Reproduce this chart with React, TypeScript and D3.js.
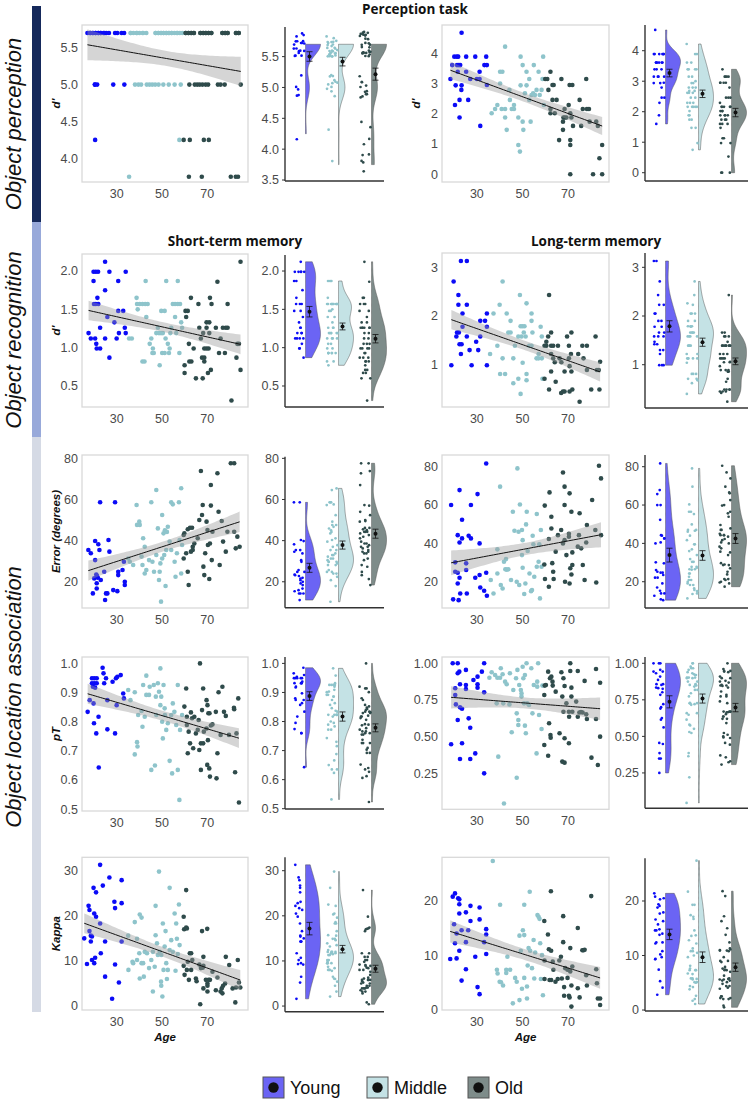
import React from 'react';
import * as d3 from 'd3';

type Pt = [number, number];

const GROUPS = ['Young', 'Middle', 'Old'];
const GROUP_CUTS = [35, 59.5];
const AGE_TICKS = [30, 50, 70];
const AGE_DOMAIN: [number, number] = [14.7, 88];
const POINT_COLORS = ['#0b0bf7', '#8ec4cb', '#2f4b4b'];
const VIOLIN_COLORS = ['#6b64f4', '#c4e2e5', '#7e8c8a'];
const ROW_LABELS = ['Object perception', 'Object recognition', 'Object location association'];
const TITLES = ['Perception task', 'Short-term memory', 'Long-term memory'];

// ---------- data: [age, value] ----------
const perceptionA: Pt[] = [
  [17.1,5.7],[18.3,5.7],[19.5,5.7],[20.7,5.7],[21.9,5.7],[23,5.7],[24.4,5.7],[25.4,5.7],[26.6,5.7],[29.3,5.7],[30.3,5.7],[32.2,5.7],[33.3,5.7],[18.3,5.7],[19.5,5.7],[20.7,5.7],[21.9,5.7],[23,5.7],[24.4,5.7],
  [20.4,5],[21.4,5],[28.5,5],[33.4,5],[20.4,5],[20.5,4.25],
  [36.2,5.7],[37.4,5.7],[38.9,5.7],[40.1,5.7],[41.6,5.7],[43.1,5.7],[47.2,5.7],[48.4,5.7],[49.6,5.7],[50.7,5.7],[51.9,5.7],[53.1,5.7],[54.3,5.7],[55.5,5.7],[56.7,5.7],[57.9,5.7],[59,5.7],[36.2,5.7],[38.9,5.7],[41.6,5.7],[47.2,5.7],[48.4,5.7],[49.6,5.7],[50.7,5.7],[51.9,5.7],[53.1,5.7],[54.3,5.7],[56.7,5.7],
  [38.1,5],[39.6,5],[40.8,5],[43.3,5],[44.5,5],[45.7,5],[47,5],[48.5,5],[50.6,5],[53,5],[55.6,5],[58.3,5],[57.7,4.25],[35.5,3.75],
  [60.5,5.7],[61.7,5.7],[62.9,5.7],[64.1,5.7],[67,5.7],[68.2,5.7],[69.4,5.7],[70.6,5.7],[71.8,5.7],[76.7,5.7],[77.9,5.7],[79,5.7],[82.7,5.7],[83.9,5.7],
  [60.5,5.7],[61.7,5.7],[62.9,5.7],[64.1,5.7],[67,5.7],[68.2,5.7],[69.4,5.7],[70.6,5.7],[71.8,5.7],[76.7,5.7],[77.9,5.7],[79,5.7],[82.7,5.7],[83.9,5.7],
  [62.1,5],[64.5,5],[65.6,5],[66.7,5],[67.9,5],[69.3,5],[70.4,5],[74.7,5],[75.9,5],[77.7,5],[84.8,5],
  [59.6,4.25],[62.3,4.25],[68.5,4.25],[70.7,4.25],[61.9,3.75],[67.6,3.75],[80.4,3.75],[82.6,3.75],[83.6,3.75]
];

const perceptionB: Pt[] = [
  [18.4,3.15],[19.2,3.61],[20.1,3.89],[21.2,3.89],[21.8,3.89],[20.7,2.94],[20.4,2.29],[21.3,3.61],[22.1,3.61],[22.7,3.61],[21.6,3.39],[22.4,2.46],[22.4,1.88],[23.2,2.79],[23.3,4.68],[23.3,2.94],[25.3,3.89],[25.3,3.39],[26.2,2.46],[27.1,3.15],[29.3,3.89],[30,3.15],[31.2,3.15],[31.2,3.39],[31.5,1.6],[33.3,3.61],[34.4,3.61],[34.1,3.89],[34.4,2.95],
  [36.5,2.02],[38,2.16],[39,2.29],[40.2,3.39],[41.2,3.39],[40.2,3.0],[40.9,2.16],[42.4,4.22],[42.4,2.16],[42.4,1.88],[43.1,1.47],[44.3,2.79],[44.5,2.46],[45.3,2.16],[46.3,2.16],[46.3,2.29],[48.2,0.97],[48.9,0.75],[48.2,1.88],[49.2,3.89],[49.2,2.94],[50.1,3.61],[50.1,1.74],[50.4,1.47],[51.1,2.68],[51.8,3.39],[51.8,2.94],[53,3.15],[53,2.46],[53.6,1.74],[54,2.62],[54.7,2.68],[55,3.61],[55.5,2.62],[56.2,2.79],[57.1,3.39],[57.6,2.62],[58.4,2.79],[59.1,3.89],[58.8,3.15],[59.4,2.29],
  [60,3.15],[60.9,3.15],[61.4,2.79],[62.3,3.39],[62.3,2.16],[62.3,2.02],[63.2,2.95],[63.7,2.95],[63.2,2.46],[64.2,2.02],[65,2.46],[66.1,1.13],[67.1,3.15],[68,1.88],[68.6,1.88],[69.3,1.88],[68.5,2.16],[67.8,1.74],[67.8,1.47],[70.3,2.29],[70.7,2.95],[71.9,2.95],[71,1.13],[71,0.97],[71,2.02],[71.5,1.88],[72.2,1.6],[71,0.0],[75.1,2.46],[75.8,1.6],[76.5,2.16],[78,3.15],[78.3,2.16],[79.2,2.16],[79.5,1.74],[81,0.0],[82.4,1.74],[83.1,1.6],[83.8,0.53],[85,0.97],[85,0.0]
];

const stmRecognition: Pt[] = [
  [17.6,1.19],[18.6,1.12],[19.8,1.99],[20.8,1.99],[21.8,1.99],[19.8,1.87],[20,1.57],[20.8,1.57],[20.5,1.12],[21,1.05],[21.2,0.99],[21.5,1.65],[21.9,1.57],[22.7,0.99],[22.7,1.26],[24.9,2.12],[24.9,1.75],[24.9,1.12],[25.9,1.4],[26.8,1.99],[26.8,0.87],[29,1.33],[30,1.12],[30.7,1.87],[30.7,1.48],[31,1.19],[32.9,1.48],[33.6,1.26],[34,1.19],[34,1.99],
  [35.5,1.12],[36.7,1.12],[38.8,1.65],[39,1.57],[40.2,1.57],[41.4,1.57],[42.6,1.57],[43.7,1.57],[39.3,1.5],[42.8,1.87],[41.4,0.82],[42.3,0.82],[43.1,1.4],[44.6,1.05],[45.3,1.12],[45.8,0.93],[46.4,0.93],[46,0.99],[47.5,1.19],[48.7,1.19],[49.6,1.19],[50.4,1.19],[49,0.77],[48.2,1.26],[49.7,1.48],[51.2,1.48],[50.1,0.93],[51.2,0.93],[51.9,1.87],[51.6,1.12],[52.6,1.05],[53.1,0.93],[53.4,0.99],[53.7,1.19],[54.1,1.26],[54.8,1.57],[55.8,1.57],[57,1.57],[58,1.57],[55.8,1.4],[57,1.87],[56.3,1.19],[57.7,0.93],[58.5,1.33],[58.9,1.26],
  [60,0.77],[60,0.67],[60.4,1.48],[61.4,1.48],[60.7,1.4],[61.9,1.05],[62.1,0.82],[63,0.82],[62.8,1.65],[64,0.99],[65,0.6],[66.1,1.57],[66.5,1.26],[67.2,1.12],[67.7,0.87],[68.7,0.87],[68,0.6],[68.2,1.19],[68.7,0.99],[69.7,0.99],[68.7,0.82],[69.7,1.33],[70.9,1.33],[69.7,1.26],[70.3,0.67],[70.6,0.99],[70.9,1.19],[71.2,1.65],[71.6,0.71],[71.9,1.57],[73.8,1.26],[74.5,1.86],[75.2,0.93],[75.9,1.12],[76.9,1.26],[77.8,0.93],[78.2,1.26],[79,1.26],[79,1.57],[80.7,0.31],[82.9,0.87],[83.3,1.05],[84,1.05],[84.7,2.12],[84.7,0.71]
];

const ltmRecognition: Pt[] = [
  [18.8,0.99],[19.8,2.71],[21,1.58],[21.3,1.66],[22.1,1.66],[21.9,2.43],[21.9,2.23],[22.4,1.42],[23.3,1.42],[23,3.13],[23,1.22],[23.7,2.05],[23.7,1.78],[25.6,3.13],[25.6,2.23],[25.6,1.58],[26.8,1.3],[27.7,0.99],[29.7,1.47],[30.6,1.3],[31.5,1.9],[31.5,1.58],[33.6,1.9],[34.4,2.05],[34.4,1.78],[34.4,0.99],
  [35.8,1.22],[37.3,2.05],[39,1.39],[40,2.23],[40.2,0.81],[41.3,2.71],[41.3,1.13],[42.4,0.81],[43.1,2.05],[43.8,1.66],[44.8,1.66],[44.8,1.9],[46,1.13],[46,0.62],[46.7,1.39],[48.2,1.58],[48.2,0.71],[48.9,2.43],[49.2,1.79],[50,1.79],[50.9,1.79],[49.6,1.58],[49.2,0.4],[50.1,1.04],[50.6,1.66],[51.4,1.58],[51.8,2.26],[51.8,0.81],[51.8,0.68],[53,1.39],[54,1.39],[54,2.05],[54,1.9],[54.4,1.66],[56.2,1.13],[57.1,1.13],[57.1,1.22],[58,1.78],[58.5,1.58],[58.8,0.71],[58.5,1.13],
  [59.7,1.39],[60.5,1.39],[59.7,0.71],[60.5,1.47],[61.3,1.58],[61.7,2.43],[61.7,0.49],[62.6,1.66],[62.6,1.39],[63.5,1.39],[62.6,1.22],[62.6,0.86],[63.5,1.13],[64.2,1.05],[64.6,0.65],[65.6,1.39],[66.3,1.13],[67.1,1.05],[67,0.42],[67.8,0.45],[68.5,0.45],[68.5,0.86],[69.6,1.58],[70.4,1.39],[70.4,1.13],[70.7,0.97],[70.7,0.45],[71.5,1.66],[71.3,1.22],[71.5,0.86],[71.9,0.49],[74.5,1.22],[75.1,0.24],[76.3,1.39],[76.8,1.13],[78.3,1.39],[78.3,0.89],[80.2,0.49],[82.1,1.58],[82.7,0.89],[83.5,0.89],[83.8,0.49],[84.1,1.06]
];

const errorStm: Pt[] = [
  [17.5,35.4],[18.6,33.8],[19.5,14.3],[20.1,21.6],[20.5,39.8],[20.5,30.5],[21,23.5],[21.3,22.8],[21.7,21.9],[21.2,19.2],[21.2,16.7],[21.9,38.2],[22.4,35.4],[22.7,58.6],[23,20.8],[24.5,24.8],[24.9,11.1],[25.3,14.3],[25.9,14.3],[26.4,40.3],[26.8,34.6],[28.5,15.9],[29.3,58.6],[30.3,15.4],[30.7,23.2],[30.7,24.8],[32.6,25.7],[33.2,29.7],[33.6,20],[33.6,18.4],
  [35.1,31.3],[35.8,29.7],[37.3,28.1],[38.8,57.3],[39,47.6],[40.2,47.6],[40,49.2],[41,32.2],[41.4,28.1],[41.7,41.1],[42.4,24],[42.4,37],[43.1,25.7],[44.3,30.5],[45.3,58.6],[45.8,29.7],[46.5,24.8],[47.5,64.6],[47.5,33],[48.2,45.9],[48.7,20.8],[49,24.8],[49.3,28.9],[49.6,10.3],[50.1,52.4],[50.1,31.3],[50.7,43.5],[51,33],[51.3,45],[52.2,44.2],[51.6,17.9],[51.9,35.4],[52.6,46.7],[53.4,39.5],[54.1,58.6],[54.8,57.6],[54.1,35.4],[55.6,29.7],[56,22.4],[56.6,33.8],[57.5,58.6],[57.8,40.3],[58.5,65.4],[58.5,24],[58.9,37.8],
  [59.6,42.7],[59.6,31.3],[59.9,43.5],[60.7,33.8],[61.4,45.5],[62.4,46.2],[63.3,46.2],[61.4,24.8],[61.8,18.4],[62.8,34.6],[63.6,35.4],[63.6,37],[64.3,38.6],[65.8,41.1],[66.5,50],[67.2,73.8],[67.7,52.4],[68,57.3],[68.3,27.3],[68.7,23.2],[69.1,33.8],[69.7,49.2],[70.1,45.1],[70.3,37.8],[70.9,21.3],[71.2,38.6],[71.6,67],[71.6,57],[72,30.5],[72.3,44.3],[74.5,72.7],[75,54],[75.5,28.1],[76.4,49.5],[77,39.5],[78.2,34.6],[78.9,44.3],[80.4,77.6],[81.9,77.6],[81.9,44.3],[82.6,36.2],[83.3,41.9],[84.3,37]
];

const errorLtm: Pt[] = [
  [18.7,60],[19.6,10.8],[20.5,30.1],[20.5,25.2],[21.6,44.3],[21.6,24.7],[22.4,67.8],[22.4,40.5],[22.4,22.1],[21.6,19.1],[22,10.4],[23.5,52.3],[23.5,42.6],[22.7,13.9],[25.3,29.6],[25.3,26.1],[25.6,13.9],[26.4,44],[27.4,42.6],[27.4,60],[29.3,22.1],[30.3,65.7],[31.2,40],[31.2,23.5],[31.5,17],[33.2,15.3],[34.1,81.7],[34.1,24.7],[34.4,12.7],
  [36.1,20.9],[37.3,13.9],[39,36.9],[39,24.3],[40.2,69.6],[40.5,18.3],[41.3,16.5],[41.9,30.4],[42.8,31.8],[42.5,26.5],[43.1,26.3],[43.8,26.5],[45,20.9],[45.8,56.5],[46.5,46.6],[47.5,20],[47.8,79.1],[48.3,46.1],[48.6,18.3],[48.9,60.3],[49.8,47],[49.8,33.9],[50.1,41.7],[50.1,27.3],[50.8,13.6],[51.3,19.1],[51.6,49.9],[51.9,56.5],[52.3,36],[53.1,24.3],[53.8,15.1],[54.2,15.7],[54.5,44],[54.8,39.5],[55.2,22.6],[56.3,55.3],[56.3,27.8],[57.1,30.4],[57.4,39.5],[57.7,11.3],[58.1,47],[58.4,27.8],
  [59.8,59.7],[59.6,29],[59.9,21.4],[61.6,42.3],[61.6,17.4],[61.9,66.6],[62.7,53.9],[62.7,47.8],[63.1,29.7],[63.5,25.2],[63.7,21.4],[64.6,35.7],[65.6,44.3],[67,47],[67.8,77],[67.8,40],[68.5,69.6],[68.5,60],[68.5,41.7],[68.7,20],[69.3,33.9],[70.4,45],[70.4,43.5],[70.7,66.1],[70.7,19.1],[71,27],[71.5,56.5],[71.5,23.8],[71.9,28.7],[71.9,35.3],[74.3,38.3],[74.8,44.3],[75.1,55.7],[75.8,37.4],[76.5,28.7],[77.3,20.9],[78,40.5],[78.3,49.6],[80.6,62.6],[82,47],[82.4,19.6],[83.6,80.5],[84.5,73.9],[84.5,44.3]
];

const ptStm: Pt[] = [
  [17.2,0.834],[18.1,0.874],[19.1,0.949],[20.1,0.949],[21.2,0.949],[19.1,0.932],[20.1,0.932],[21.2,0.932],[19.5,0.92],[20.5,0.917],[19.8,0.863],[20,0.795],[21,0.76],[22,0.817],[22.1,0.643],[23.8,0.985],[24.2,0.966],[24.5,0.932],[25.3,0.949],[25.9,0.774],[25.9,0.874],[28.2,0.937],[29.3,0.76],[29.7,0.949],[30.3,0.954],[30,0.857],[31.8,0.96],[32.9,0.897],[33.2,0.88],
  [35.1,0.909],[36.1,0.874],[38,0.901],[38,0.688],[39,0.73],[39.2,0.715],[39.5,0.823],[41,0.837],[41.4,0.783],[41.7,0.926],[42.4,0.817],[43.1,0.958],[43.1,0.892],[44.3,0.892],[44.6,0.92],[45.3,0.635],[46.4,0.926],[46.9,0.65],[47.3,0.886],[47.5,0.823],[48.2,0.932],[48.7,0.903],[49.3,0.983],[49.3,0.857],[49.7,0.886],[50.1,0.8],[50.4,0.743],[50.7,0.926],[51.2,0.846],[51.3,0.823],[51.9,0.772],[52.6,0.795],[53.4,0.666],[54.1,0.823],[54.5,0.623],[54.8,0.863],[55.5,0.834],[56.3,0.789],[57,0.635],[57,0.926],[57.7,0.532],[58,0.772],[58.9,0.823],
  [59.9,0.852],[60.7,0.914],[61,0.817],[61,0.789],[61.4,0.692],[61.8,0.766],[62.4,0.726],[62.8,0.832],[63.3,0.812],[63.8,0.709],[64.3,0.817],[65,0.76],[65.8,0.772],[66.2,0.806],[66.5,0.703],[66.8,1.0],[67.2,0.726],[68.2,0.726],[67.2,0.635],[67.7,0.84],[68.2,0.914],[68.5,0.766],[69.7,0.874],[69.7,0.777],[70,0.652],[70.1,0.857],[70.3,0.737],[70.5,0.829],[71,0.829],[70.9,0.64],[71.2,0.612],[71.6,0.787],[72.3,0.791],[73.8,0.834],[74.1,0.606],[74.5,0.692],[75,0.901],[75.9,0.755],[76.7,0.92],[77.4,0.834],[78.2,0.82],[79.6,0.755],[81.8,0.848],[81.9,0.843],[82.3,0.627],[82.9,0.76],[83.7,0.88],[84,0.523]
];

const ptLtm: Pt[] = [
  [18.7,0.448],[19.4,1.0],[21.6,1.0],[20.5,0.83],[20.5,0.784],[20.8,0.72],[21.6,0.614],[21.6,0.932],[22.3,0.943],[22.6,0.7],[23.5,0.69],[22.6,0.857],[22.6,0.348],[23.5,0.455],[25.2,0.955],[25.2,0.852],[25.2,0.825],[26.4,0.625],[27.1,0.561],[27.1,0.348],[28.5,0.886],[29.3,0.386],[30.3,0.909],[30.3,0.857],[30.3,0.834],[32.2,0.943],[33.2,0.802],[33.2,1.0],[33.2,0.25],
  [35.5,0.902],[36.5,0.939],[38,0.92],[38.7,0.727],[39,0.902],[40.2,0.902],[39.4,0.364],[40.5,0.966],[41.3,0.925],[41.6,0.727],[41.9,0.045],[42.4,0.875],[43.1,0.857],[44.3,0.72],[44.5,0.932],[45.3,0.53],[46,0.818],[47.2,0.898],[47.5,0.659],[47.5,0.22],[47.8,0.955],[48.2,0.614],[48.2,0.58],[48.6,0.852],[49.3,0.818],[49.6,0.795],[49.6,0.773],[50.1,0.977],[50.4,0.898],[50.7,0.727],[51.1,0.92],[51.1,0.575],[51.5,0.523],[51.8,1.0],[52.1,0.727],[52.9,0.716],[53.9,0.966],[54.4,0.659],[55,0.852],[56.2,0.386],[56.5,0.875],[56.5,0.841],[56.9,1.0],[57.3,0.648],[58.4,0.552],[58.8,0.848],
  [59.6,0.784],[59.8,0.848],[60.3,0.852],[61.3,0.943],[61.7,0.591],[62.1,0.898],[61.3,0.37],[59.6,0.443],[62.3,0.511],[62.4,0.493],[62.7,0.909],[63.2,0.875],[63.3,0.848],[64.6,0.807],[66.3,0.523],[67.1,0.939],[67.5,0.773],[67.5,0.33],[68.5,0.323],[68,0.898],[68.5,0.845],[68.5,0.489],[68,0.67],[69.3,0.727],[70.4,0.455],[70.4,0.67],[70.5,0.636],[71,1.0],[71,0.948],[71.5,0.834],[71.5,0.773],[71.9,0.67],[73.6,0.739],[74.3,0.948],[74.3,0.636],[75,0.665],[75.7,0.668],[76.4,0.665],[77.3,0.88],[78,0.652],[78.3,0.62],[80.3,0.357],[82.3,0.961],[82.3,0.62],[83.1,0.307],[84.1,0.868],[84.1,0.5]
];

const kappaStm: Pt[] = [
  [15.7,15],[16.9,9.3],[17.6,22.2],[18,21.3],[18,16.6],[18.6,15.6],[19.1,15.4],[18.6,14.3],[19.1,10.2],[19.8,26.2],[20.1,20.5],[20.1,9.5],[20.5,10.7],[20.9,25.2],[20.9,19.8],[22.7,31.3],[22.7,18.3],[23,11.7],[23.9,26.7],[24.9,14.3],[24.9,6.5],[26.8,28.5],[28,1.6],[29,23.1],[29.3,21.7],[29.3,9.2],[31,5.2],[32.2,27.9],[32.2,22.8],[32.2,14.3],
  [35.2,8],[35.1,15.6],[37,9.8],[37.3,9.5],[38,18.6],[39,10.2],[39,14.9],[40,11.7],[40.2,20.3],[40.2,6.1],[41,19.6],[41,9.5],[41.7,9.5],[42,6.5],[42.4,12],[43.4,11.7],[44.3,8.4],[45.3,10.2],[46,12],[46,3.2],[46.8,8.7],[47.2,15.7],[47.2,22.2],[47.8,13.9],[48.2,11.3],[48.7,29.8],[49,12],[49.7,11.3],[49.6,5.4],[49.7,4.5],[50.2,2.1],[50.4,18.3],[50.7,8],[51.2,13.2],[51.6,16.6],[51.9,9.5],[52.2,6],[52.6,8],[53.4,26.2],[53.4,12.4],[54.1,14.6],[54.8,12],[55.6,20.5],[56,7.8],[56.3,18.3],[56.6,14.9],[57,11.5],[57.5,22.5],[57.8,13.5],
  [59.6,19.8],[59.8,17],[59.6,8.9],[60,6.9],[60.7,25.7],[60.7,17.4],[61,17.2],[61,8],[61.4,9.8],[61.9,5.8],[62.3,11.7],[62.9,11.7],[62.9,8],[63.4,10.2],[65,6.1],[65.3,5.5],[66.5,9.2],[66.9,0.4],[67.2,8.4],[67.7,16.6],[68,8.5],[68.3,8.9],[68.3,10.9],[68.3,3.9],[69.4,5.8],[70,17.1],[70.1,5],[70.1,4.5],[70.1,3.2],[70.6,5.8],[71.2,5.8],[72.3,7.6],[73.8,3.5],[74.5,6.3],[75.9,3.2],[76.4,3.9],[76.7,2.8],[77,4.5],[77.9,5],[78.2,10.9],[79.7,9.1],[81.2,3.9],[82.4,0.8],[82.7,4.1],[83.5,10.2],[84,5.2],[84.6,4.1]
];

const kappaLtm: Pt[] = [
  [18.3,9.3],[19.4,20.8],[20.4,21.4],[20,15.7],[20.4,12.2],[21.1,14],[21.1,9.4],[21.8,20.5],[22.3,20.3],[22.3,19.4],[22.3,17.7],[22.3,10.8],[23.3,14.6],[23.3,5.3],[25.2,17.9],[25.2,12.4],[25.2,7.4],[26.2,14.6],[27.2,19.1],[27.2,16.3],[29.3,9.7],[30.3,4.1],[31.2,18.8],[31.2,16.6],[31.2,2.8],[33.2,12.4],[34.1,14.8],[34.1,13.8],[34.1,10.2],
  [37,27.4],[40.2,19.3],[38.8,7.3],[39.1,6.6],[40,5.1],[40.6,5],[41.5,4.4],[42.9,7.3],[42.9,6.7],[43.4,9.7],[44.6,7.3],[45.8,1.1],[46.8,5.8],[47.5,5.1],[48.7,1.7],[48.7,13.6],[49.3,10.8],[49.8,3.8],[50.2,14.6],[50.8,13.7],[50.8,5.8],[50.8,19.3],[52,4.2],[52,2],[52.3,8.1],[52.7,11.3],[53.2,21.7],[53.4,10.8],[54.2,7.6],[54.9,12.8],[55.2,5.7],[55.6,10.5],[56.6,17.4],[57.1,17.1],[57.5,16.7],[57.8,12.2],[58.1,5.6],[59,2.6],[58.6,10],
  [59.6,16.3],[59.7,9],[59.7,5.6],[61.2,13.8],[61.6,11.1],[61.9,5.4],[62.5,21.8],[62.6,10.8],[62.6,5.4],[63.3,8.8],[63.6,7.3],[64.5,5.1],[65.5,5.6],[66.2,9],[66.9,9.7],[67.3,5.7],[67.9,17.2],[67.9,12.4],[68.3,4.1],[68.3,2.5],[68.8,7.6],[69.8,7.3],[69.8,5.8],[70.4,2.5],[70.7,2.2],[71,11.3],[71,7],[71.5,4.4],[71.5,0.5],[71.9,7.9],[74.3,15],[74.3,3.9],[75.1,2.2],[76.3,10.9],[76.8,10.9],[77.3,11],[78,6.3],[78.3,4.4],[80.2,20.9],[82.4,7.4],[82.7,4.8],[83.1,2],[84.1,2],[84.1,0.8]
];

// ---------- layout ----------
type Spec = {
  data: Pt[]; col: 0 | 1; yLabel?: string; sY: [number, number]; sDom: [number, number];
  rY: [number, number]; rDom: [number, number]; sTicks: number[]; rTicks: number[]; fmt: string; jitterH?: number; xLabel?: boolean;
};
const COLS = [
  { sX: [82, 248], rX: [285, 384] },
  { sX: [442, 609], rX: [645, 748] },
];

const SPECS: Spec[] = [
  { data: perceptionA, col: 0, yLabel: "d'", sY: [25, 182], sDom: [3.679, 5.808], rY: [27, 181], rDom: [3.484, 5.98], sTicks: [4, 4.5, 5, 5.5], rTicks: [3.5, 4, 4.5, 5, 5.5], fmt: '.1f', jitterH: 0.2 },
  { data: perceptionB, col: 1, yLabel: "d'", sY: [25, 182], sDom: [-0.255, 4.936], rY: [25, 181], rDom: [-0.272, 4.843], sTicks: [0, 1, 2, 3, 4], rTicks: [0, 1, 2, 3, 4], fmt: 'd' },
  { data: stmRecognition, col: 0, yLabel: "d'", sY: [254, 407], sDom: [0.226, 2.222], rY: [255, 407], rDom: [0.226, 2.209], sTicks: [0.5, 1, 1.5, 2], rTicks: [0.5, 1, 1.5, 2], fmt: '.1f' },
  { data: ltmRecognition, col: 1, sY: [253, 407], sDom: [0.131, 3.294], rY: [253, 408], rDom: [0.111, 3.294], sTicks: [1, 2, 3], rTicks: [1, 2, 3], fmt: 'd' },
  { data: errorStm, col: 0, yLabel: 'Error (degrees)', sY: [455, 608], sDom: [7.2, 81.6], rY: [456.7, 607.7], rDom: [7.4, 80.8], sTicks: [20, 40, 60, 80], rTicks: [20, 40, 60, 80], fmt: 'd' },
  { data: errorLtm, col: 1, sY: [455, 608], sDom: [6.3, 86.1], rY: [455, 608], rDom: [6.3, 86.1], sTicks: [20, 40, 60, 80], rTicks: [20, 40, 60, 80], fmt: 'd' },
  { data: ptStm, col: 0, yLabel: 'pT', sY: [657, 811], sDom: [0.494, 1.022], rY: [657, 809], rDom: [0.499, 1.022], sTicks: [0.5, 0.6, 0.7, 0.8, 0.9, 1], rTicks: [0.5, 0.6, 0.7, 0.8, 0.9, 1], fmt: '.1f' },
  { data: ptLtm, col: 1, sY: [657, 809.3], sDom: [0.005, 1.043], rY: [657, 808.3], rDom: [0.008, 1.043], sTicks: [0.25, 0.5, 0.75, 1], rTicks: [0.25, 0.5, 0.75, 1], fmt: '.2f' },
  { data: kappaStm, col: 0, yLabel: 'Kappa', xLabel: true, sY: [857.3, 1010], sDom: [-0.89, 32.97], rY: [857.3, 1011.7], rDom: [-1.25, 32.97], sTicks: [0, 10, 20, 30], rTicks: [0, 10, 20, 30], fmt: 'd' },
  { data: kappaLtm, col: 1, xLabel: true, sY: [857.3, 1010], sDom: [-0.13, 28.07], rY: [858.3, 1011], rDom: [-0.18, 27.83], sTicks: [0, 10, 20], rTicks: [0, 10, 20], fmt: 'd' },
];

const TICK_FONT = 'Liberation Sans, Arial, sans-serif';

function groupOf(age: number) {
  return age < GROUP_CUTS[0] ? 0 : age < GROUP_CUTS[1] ? 1 : 2;
}
// deterministic, irregular jitter offset in [-0.5, 0.5] (position only, not data)
function jit(i: number, salt: number) {
  const s = Math.sin((i + 1) * 78.233 + salt * 12.9898) * 43758.5453;
  return s - Math.floor(s) - 0.5;
}

function kde(vals: number[], n = 120) {
  const s = vals.slice().sort(d3.ascending);
  const sd = d3.deviation(s) ?? 0;
  const iqr = (d3.quantile(s, 0.75) ?? 0) - (d3.quantile(s, 0.25) ?? 0);
  let lo = Math.min(sd, iqr / 1.34);
  if (!(lo > 0)) lo = sd > 0 ? sd : 1;
  const bw = 0.9 * lo * Math.pow(s.length, -0.2);
  const mn = s[0], mx = s[s.length - 1];
  return d3.range(n).map((i) => {
    const y = mn + ((mx - mn) * i) / (n - 1);
    let d = 0;
    for (const v of s) { const z = (y - v) / bw; d += Math.exp(-0.5 * z * z); }
    return { y, d };
  });
}

function Scatter({ spec, idx }: { spec: Spec; idx: number }) {
  const [x0, x1] = COLS[spec.col].sX;
  const xs = d3.scaleLinear().domain(AGE_DOMAIN).range([x0, x1]);
  const ys = d3.scaleLinear().domain(spec.sDom).range([spec.sY[1], spec.sY[0]]);
  const fmt = d3.format(spec.fmt);
  const ax = spec.data.map((d) => d[0]);
  const ay = spec.data.map((d) => d[1]);
  const n = ax.length;
  const mx = d3.mean(ax)!, my = d3.mean(ay)!;
  let sxx = 0, sxy = 0;
  for (let i = 0; i < n; i++) { sxx += (ax[i] - mx) ** 2; sxy += (ax[i] - mx) * (ay[i] - my); }
  const b = sxy / sxx, a = my - b * mx;
  let sse = 0;
  for (let i = 0; i < n; i++) sse += (ay[i] - a - b * ax[i]) ** 2;
  const s = Math.sqrt(sse / (n - 2));
  const t = 1.98;
  const [emin, emax] = d3.extent(ax) as [number, number];
  const grid = d3.range(61).map((i) => emin + ((emax - emin) * i) / 60);
  const band = grid.map((x) => {
    const f = a + b * x;
    const se = s * Math.sqrt(1 / n + (x - mx) ** 2 / sxx);
    return { x, f, lo: f - t * se, hi: f + t * se };
  });
  const area = d3.area<any>().x((d) => xs(d.x)).y0((d) => ys(d.lo)).y1((d) => ys(d.hi));
  const line = d3.line<any>().x((d) => xs(d.x)).y((d) => ys(d.f));
  const clipId = `clip-s-${idx}`;
  const yMid = (spec.sY[0] + spec.sY[1]) / 2;
  return (
    <g>
      <defs>
        <clipPath id={clipId}><rect x={x0} y={spec.sY[0]} width={x1 - x0} height={spec.sY[1] - spec.sY[0]} /></clipPath>
      </defs>
      <rect x={x0} y={spec.sY[0]} width={x1 - x0} height={spec.sY[1] - spec.sY[0]} fill="#fff" stroke="#d9d9d9" strokeWidth={1.3} />
      <g clipPath={`url(#${clipId})`}>
        {spec.data.map((d, i) => (
          <circle key={i} cx={xs(d[0])} cy={ys(d[1])} r={2.3} fill={POINT_COLORS[groupOf(d[0])]} />
        ))}
        <path d={area(band)!} fill="#9a9a9a" fillOpacity={0.42} />
        <path d={line(band)!} fill="none" stroke="#111" strokeWidth={1} />
      </g>
      {spec.sTicks.map((v) => (
        <text key={v} x={x0 - 4} y={ys(v)} dy="0.35em" textAnchor="end" fontSize={12.5} fill="#4a4a4a" fontFamily={TICK_FONT}>{fmt(v)}</text>
      ))}
      {AGE_TICKS.map((v) => (
        <text key={v} x={xs(v)} y={spec.sY[1] + 15.5} textAnchor="middle" fontSize={12.5} fill="#4a4a4a" fontFamily={TICK_FONT}>{v}</text>
      ))}
      {spec.yLabel && (
        <text transform={`translate(${x0 - 26},${yMid}) rotate(-90)`} dy="0.35em" textAnchor="middle" fontSize={11.5} fontWeight="bold" fontStyle="italic" fill="#111" fontFamily={TICK_FONT}>{spec.yLabel}</text>
      )}
      {spec.xLabel && (
        <text x={(x0 + x1) / 2} y={spec.sY[1] + 31} textAnchor="middle" fontSize={11.5} fontWeight="bold" fontStyle="italic" fill="#111" fontFamily={TICK_FONT}>Age</text>
      )}
    </g>
  );
}

function Rain({ spec, idx }: { spec: Spec; idx: number }) {
  const [x0, x1] = COLS[spec.col].rX;
  const ys = d3.scaleLinear().domain(spec.rDom).range([spec.rY[1], spec.rY[0]]);
  const fmt = d3.format(spec.fmt);
  const jh = spec.jitterH ?? 0;
  const maxW = 15;
  return (
    <g>
      {GROUPS.map((g, gi) => {
        const vals = spec.data.filter((d) => groupOf(d[0]) === gi).map((d) => d[1]);
        const base = x0 + 20.5 + gi * 33;
        const dens = kde(vals);
        const maxD = d3.max(dens, (d) => d.d)!;
        const area = d3.area<any>().y((d) => ys(d.y)).x0(base).x1((d) => base + (maxW * d.d) / maxD);
        const mean = d3.mean(vals)!;
        const se = (d3.deviation(vals) ?? 0) / Math.sqrt(vals.length);
        const mx = base + 4;
        const salt = idx * 3 + gi;
        return (
          <g key={g}>
            <path d={area(dens)!} fill={VIOLIN_COLORS[gi]} stroke="#555" strokeWidth={0.5} />
            {vals.map((v, i) => (
              <circle key={i} cx={base - 6.5 + jit(i, salt) * 11} cy={ys(v + jit(i, salt + 101) * 2 * jh)} r={1.35} fill={POINT_COLORS[gi]} />
            ))}
            <line x1={mx} x2={mx} y1={ys(mean - se)} y2={ys(mean + se)} stroke="#111" strokeWidth={0.8} />
            <line x1={mx - 3} x2={mx + 3} y1={ys(mean - se)} y2={ys(mean - se)} stroke="#111" strokeWidth={0.8} />
            <line x1={mx - 3} x2={mx + 3} y1={ys(mean + se)} y2={ys(mean + se)} stroke="#111" strokeWidth={0.8} />
            <circle cx={mx} cy={ys(mean)} r={2} fill="#111" />
          </g>
        );
      })}
      <line x1={x0} x2={x0} y1={spec.rY[0]} y2={spec.rY[1]} stroke="#333" strokeWidth={1.4} />
      <line x1={x0} x2={x1} y1={spec.rY[1]} y2={spec.rY[1]} stroke="#333" strokeWidth={1.4} />
      {spec.rTicks.map((v) => (
        <g key={v}>
          <line x1={x0 - 3} x2={x0} y1={ys(v)} y2={ys(v)} stroke="#333" strokeWidth={1} />
          <text x={x0 - 6} y={ys(v)} dy="0.35em" textAnchor="end" fontSize={12.5} fill="#4a4a4a" fontFamily={TICK_FONT}>{fmt(v)}</text>
        </g>
      ))}
    </g>
  );
}

const BANDS = [
  { y0: 6, y1: 222, color: '#15295b', label: ROW_LABELS[0] },
  { y0: 222, y1: 437, color: '#98a9da', label: ROW_LABELS[1] },
  { y0: 437, y1: 1012, color: '#d5dae5', label: ROW_LABELS[2] },
];
const BAND_LABEL_Y = [124, 340, 697];

export default function App() {
  const legendX = [263, 367, 468];
  return (
    <svg width={750} height={1099} style={{ position: 'absolute', left: 0, top: 0, display: 'block' }}>
      <rect x={0} y={0} width={750} height={1099} fill="#fff" />
      {BANDS.map((b, i) => (
        <g key={i}>
          <rect x={32} y={b.y0} width={9} height={b.y1 - b.y0} fill={b.color} />
          <text transform={`translate(13,${BAND_LABEL_Y[i]}) rotate(-90)`} dy="0.35em" textAnchor="middle" fontSize={22} fontStyle="italic" fill="#111" fontFamily={TICK_FONT}>{b.label}</text>
        </g>
      ))}
      <text x={415} y={14} textAnchor="middle" fontSize={13.5} fontWeight="bold" fontFamily="Open Sans, sans-serif" fill="#111">{TITLES[0]}</text>
      <text x={235} y={246} textAnchor="middle" fontSize={13.5} fontWeight="bold" fontFamily="Open Sans, sans-serif" fill="#111">{TITLES[1]}</text>
      <text x={596} y={246} textAnchor="middle" fontSize={13.5} fontWeight="bold" fontFamily="Open Sans, sans-serif" fill="#111">{TITLES[2]}</text>
      {SPECS.map((s, i) => (
        <g key={i}>
          <Scatter spec={s} idx={i} />
          <Rain spec={s} idx={i} />
        </g>
      ))}
      {GROUPS.map((g, i) => (
        <g key={g}>
          <rect x={legendX[i]} y={1077} width={21} height={21} fill={VIOLIN_COLORS[i]} stroke="#555" strokeWidth={1} />
          <circle cx={legendX[i] + 10.5} cy={1087.5} r={5.2} fill="#111" />
          <text x={legendX[i] + 27} y={1094} fontSize={18} fill="#111" fontFamily={TICK_FONT}>{g}</text>
        </g>
      ))}
    </svg>
  );
}
